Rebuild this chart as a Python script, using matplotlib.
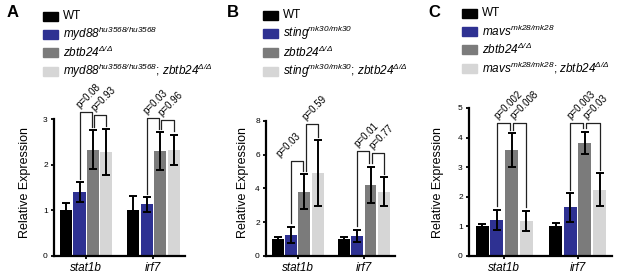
import matplotlib
matplotlib.use('Agg')
import matplotlib.pyplot as plt
from matplotlib.patches import Rectangle

plt.rcParams['font.family'] = ['Liberation Sans', 'DejaVu Sans']
plt.rcParams['mathtext.fontset'] = 'custom'
# gene names are all italic, digits included
plt.rcParams['mathtext.rm'] = 'Liberation Sans:italic'
plt.rcParams['mathtext.it'] = 'Liberation Sans:italic'
plt.rcParams['mathtext.bf'] = 'Liberation Sans:bold'

genes = ['stat1b', 'irf7']
colors = ['#000000', '#2e3192', '#7b7b7b', '#d6d6d6']

# panel A - myd88
a_legend = ['WT',
            r'$\mathrm{myd88}^{\mathrm{hu3568/hu3568}}$',
            r'$\mathrm{zbtb24}^{\Delta/\Delta}$',
            r'$\mathrm{myd88}^{\mathrm{hu3568/hu3568}}$; $\mathrm{zbtb24}^{\Delta/\Delta}$']
a_means = [[1.0, 1.40, 2.33, 2.28], [1.0, 1.13, 2.30, 2.33]]
a_errs = [[0.17, 0.21, 0.42, 0.50], [0.32, 0.16, 0.41, 0.33]]
a_pvals = [['p=0.08', 'p=0.93'], ['p=0.03', 'p=0.96']]
a_tops = [[3.15, 3.08], [3.03, 2.97]]
a_yticks = [0, 1, 2, 3]

# panel B - sting
b_legend = ['WT',
            r'$\mathrm{sting}^{\mathrm{mk30/mk30}}$',
            r'$\mathrm{zbtb24}^{\Delta/\Delta}$',
            r'$\mathrm{sting}^{\mathrm{mk30/mk30}}$; $\mathrm{zbtb24}^{\Delta/\Delta}$']
b_means = [[1.0, 1.24, 3.80, 4.90], [1.0, 1.20, 4.20, 3.80]]
b_errs = [[0.15, 0.49, 1.05, 1.93], [0.15, 0.35, 1.08, 0.87]]
b_pvals = [['p=0.03', 'p=0.59'], ['p=0.01', 'p=0.77']]
b_tops = [[5.64, 7.81], [6.2, 6.1]]
b_yticks = [0, 2, 4, 6, 8]

# panel C - mavs
c_legend = ['WT',
            r'$\mathrm{mavs}^{\mathrm{mk28/mk28}}$',
            r'$\mathrm{zbtb24}^{\Delta/\Delta}$',
            r'$\mathrm{mavs}^{\mathrm{mk28/mk28}}$; $\mathrm{zbtb24}^{\Delta/\Delta}$']
c_means = [[1.0, 1.22, 3.57, 1.18], [1.0, 1.64, 3.83, 2.24]]
c_errs = [[0.09, 0.33, 0.57, 0.35], [0.12, 0.48, 0.37, 0.55]]
c_pvals = [['p=0.002', 'p=0.008'], ['p=0.003', 'p=0.03']]
c_tops = [[4.5, 4.5], [4.5, 4.5]]
c_yticks = [0, 1, 2, 3, 4, 5]

W, H = 617, 279
GSEP = 5


def draw_panel(rect, means, errs, pvals, tops, yticks, text_dx):
    ax = fig.add_axes(rect)
    ymax = yticks[-1]
    pad = 0.025 * ymax
    for g in range(2):
        xs = [g * GSEP + (i - 1.5) for i in range(4)]
        ax.bar(xs, means[g], width=0.9, color=colors, zorder=1)
        ax.errorbar(xs, means[g], yerr=errs[g], fmt='none', ecolor='black',
                    elinewidth=1.4, capsize=2.6, capthick=1.4, zorder=3)
        ends = [m + e + pad for m, e in zip(means[g], errs[g])]
        pairs = [(1, 2), (2, 3)]
        for k, (i, j) in enumerate(pairs):
            x1 = xs[i] + (0.1 if k == 1 else 0)
            x2 = xs[j] + (-0.1 if k == 0 else 0)
            top = tops[g][k]
            ax.plot([x1, x1, x2, x2], [ends[i], top, top, ends[j]],
                    color='#222222', lw=0.9, clip_on=False, zorder=4)
            ax.annotate(pvals[g][k], xy=(x1, top),
                        xytext=(text_dx[g][k], 1.5), textcoords='offset points',
                        rotation=45, rotation_mode='anchor', ha='left',
                        va='bottom', fontsize=7, annotation_clip=False)
    ax.set_xlim(-2.4, 7.35)
    ax.set_ylim(0, ymax)
    ax.set_yticks(yticks)
    ax.set_yticklabels([str(t) for t in yticks], fontsize=6)
    ax.set_xticks([0, GSEP])
    ax.set_xticklabels(genes, fontsize=8.5, style='italic')
    ax.tick_params(axis='both', length=2.5, width=1.3, pad=2)
    for s in ['top', 'right']:
        ax.spines[s].set_visible(False)
    for s in ['left', 'bottom']:
        ax.spines[s].set_linewidth(1.6)
    return ax


def draw_legend(labels, sq_x, txt_x, rows):
    for lab, col, yc in zip(labels, colors, rows):
        fig.add_artist(Rectangle((sq_x / W, 1 - (yc + 4.5) / H), 15 / W, 9 / H,
                                 transform=fig.transFigure, color=col))
        fig.text(txt_x / W, 1 - yc / H, lab, fontsize=8.5, va='center', ha='left')


fig = plt.figure(figsize=(W / 100, H / 100), dpi=100)

draw_panel([54 / W, 23 / H, 131 / W, 137 / H], a_means, a_errs, a_pvals, a_tops,
           a_yticks, [[1.5, 1.5], [1.5, 1.5]])
draw_panel([266 / W, 23 / H, 129 / W, 135.3 / H], b_means, b_errs, b_pvals, b_tops,
           b_yticks, [[-7, 1.5], [1.5, 1.5]])
draw_panel([469 / W, 23 / H, 143 / W, 148 / H], c_means, c_errs, c_pvals, c_tops,
           c_yticks, [[1.5, 1.5], [1.5, 1.5]])

draw_legend(a_legend, 43, 63, [16, 34, 52, 71])
draw_legend(b_legend, 263, 283, [15, 33, 52, 71])
draw_legend(c_legend, 462, 482, [13, 31, 49, 68])

for lab, x in [('A', 7), ('B', 227), ('C', 428)]:
    fig.text(x / W, 1 - 5 / H, lab, fontsize=12, fontweight='bold', va='top', ha='left')

for x in [25, 243, 438]:
    fig.text(x / W, 1 - 183 / H, 'Relative Expression', fontsize=9, rotation=90,
             va='center', ha='center')

fig.savefig('out.png', dpi=100)
